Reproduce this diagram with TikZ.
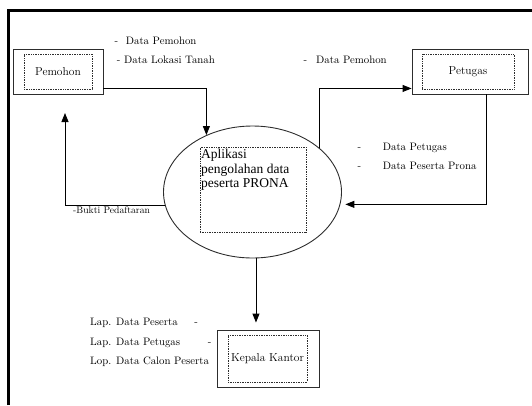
\documentclass[tikz,border=0pt]{standalone}
\usepackage{fontspec}
\newfontfamily\appfont{Liberation Serif}
\usepackage{tikz}
\usetikzlibrary{shapes.geometric, arrows.meta, positioning, calc}
\definecolor{boxgray}{RGB}{45,45,45}
\tikzset{
  outerbox/.style={draw=boxgray, line width=0.9pt, inner sep=0pt},
  innerbox/.style={draw=boxgray, densely dotted, line width=0.7pt, inner sep=0pt, font=\fontsize{11.5}{13}\selectfont},
  lbl/.style={anchor=base west, inner sep=0pt, font=\fontsize{10.8}{13}\selectfont},
  arr/.style={-{Triangle[length=9pt,width=7pt]}, line width=0.9pt}
}

\begin{document}
\begin{tikzpicture}[x=1pt, y=-1pt]
                \useasboundingbox (0,0) rectangle (532,405);
                % --- Bingkai ---
                \draw[line width=2.6pt] (8.5,405) -- (8.5,10.5) -- (532,10.5);

                % --- Entitas luar ---
                \node[outerbox, minimum width=90pt, minimum height=45pt] (pemohon) at (58,71.5) {};
                \node[innerbox, minimum width=68pt, minimum height=35pt] (pemohonIn) at (58,71.5) {Pemohon};
                \node[outerbox, minimum width=116pt, minimum height=45pt] (petugas) at (470,71.5) {};
                \node[innerbox, minimum width=92pt, minimum height=35pt] (petugasIn) at (468,71.5) {Petugas};
                \node[outerbox, minimum width=102pt, minimum height=57pt] (kepala) at (268,358.5) {};
                \node[innerbox, minimum width=79pt, minimum height=47pt] (kepalaIn) at (267.5,358.5) {Kepala Kantor};

                % --- Proses ---
                \node[draw=boxgray, ellipse, line width=0.9pt, minimum width=178pt, minimum height=132pt, inner sep=0pt] (app) at (252.5,192) {};
                \node[innerbox, minimum width=106pt, minimum height=85pt] (appIn) at (253,189.5) {};
                \node[anchor=north west, align=left, inner sep=0pt, font=\appfont\fontsize{13.5}{14.5}\selectfont] (appText) at (201,149) {Aplikasi\\pengolahan data\\peserta PRONA};

                % --- Aliran data ---
                \coordinate (buktiEnd) at (65,113);
                \draw[arr] ($(pemohon.south east)+(0,-6)$) -| (app.129);
                \draw[arr] (app.189) -| (buktiEnd);
                \draw[arr] (app.33) |- ($(petugas.south west)+(0,-6)$);
                \draw[arr, shorten >=5pt] ($(petugas.south)+(16,0)$) |- (app.-8);
                \draw[arr, shorten >=7pt] (app.-87) -- (app.-87 |- kepala.north);

                % --- Keterangan ---
                \node[lbl] (lblPemohonA) at (114.3,44) {-\hspace{7.8pt}Data Pemohon};
                \node[lbl] (lblLokasi) at (116.7,63) {-\hspace{3.7pt}Data Lokasi Tanah};
                \node[lbl] (lblPemohonB) at (303.3,63) {-\hspace{9.1pt}Data Pemohon};
                \node[lbl] (lblPetugas) at (357.3,150.5) {-\hspace{21.8pt}Data Petugas};
                \node[lbl] (lblPeserta) at (357.3,169.5) {-\hspace{21.8pt}Data Peserta Prona};
                \node[lbl, font=\fontsize{9.7}{12}\selectfont] (lblBukti) at (73,213) {-Bukti Pedaftaran};
                \node[lbl] (lblLapA) at (90,325.5) {Lap. Data Peserta\hspace{16.7pt}-};
                \node[lbl] (lblLapB) at (90,345) {Lap. Data Petugas\hspace{27.7pt}-};
                \node[lbl] (lblLapC) at (90,364) {Lop. Data Calon Peserta};
\end{tikzpicture}
\end{document}
